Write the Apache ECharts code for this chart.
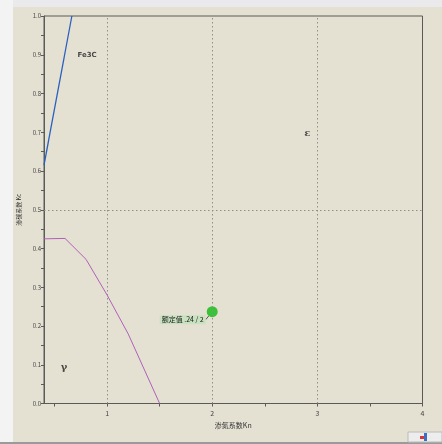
<!DOCTYPE html>
<html><head><meta charset="utf-8">
<script src="https://cdn.jsdelivr.net/npm/echarts@6/dist/echarts.min.js"></script>
<style>html,body{margin:0;padding:0;background:#E4E1D2;}#c{width:442px;height:444px;}</style>
</head><body><div id="c"></div>
<script>
// Data
const fe3cX = [0.4, 0.665];
const fe3cY = [0.615, 1.0];
const gammaX = [0.4, 0.6, 0.8, 1.0, 1.2, 1.5];
const gammaY = [0.425, 0.426, 0.372, 0.28, 0.18, 0.0];
const ratedX = [2.0];
const ratedY = [0.237];
const ratedLabel = '额定值 .24 / 2';
const regionNames = ['Fe3C', 'ε', 'γ'];
const regionX = [0.81, 2.905, 0.59];
const regionY = [0.899, 0.698, 0.094];
const xLabelTicks = [1, 2, 3, 4];
const xTickValues = [0.5, 1, 1.5, 2, 2.5, 3, 3.5, 4];
const gridX = [1, 2, 3];
const gridY = [0.5];

const zip = (a, b) => a.map((v, i) => [v, b[i]]);
const chart = echarts.init(document.getElementById('c'));
const font = 'Noto Sans CJK SC, DejaVu Sans, sans-serif';
chart.setOption({
  backgroundColor: '#E4E1D2',
  animation: false,
  graphic: [
    {type:'rect', shape:{x:0,y:0,width:442,height:7}, style:{fill:'#EAEAEC'}, z:-1},
    {type:'rect', shape:{x:0,y:0,width:13,height:444}, style:{fill:'#F3F3F3'}, z:-1},
    {type:'rect', shape:{x:0,y:442,width:442,height:2}, style:{fill:'#9a9a9a'}, z:-1},
    {type:'rect', shape:{x:408,y:432,width:34,height:10}, style:{fill:'#EDEDED', stroke:'#bbb', lineWidth:1}},
    {type:'rect', shape:{x:424,y:433,width:3,height:8}, style:{fill:'#3a6fc4'}},
    {type:'rect', shape:{x:420,y:436,width:4,height:3}, style:{fill:'#d23a3a'}}
  ],
  grid: {left:44, top:16, right:19.5, bottom:40.5, show:true, borderColor:'#5a5a5a', borderWidth:1, backgroundColor:'transparent'},
  xAxis: {
    type:'value', min:0.4, max:4,
    name:'渗氮系数Kn', nameLocation:'middle', nameGap:17,
    nameTextStyle:{fontSize:7, color:'#333', fontFamily:font},
    axisLine:{lineStyle:{color:'#5a5a5a', width:1}},
    axisTick:{show:true, length:3, inside:false, customValues:xTickValues, lineStyle:{color:'#5a5a5a'}},
    axisLabel:{customValues:xLabelTicks, fontSize:7, color:'#444', margin:6, fontFamily:font},
    splitLine:{show:false}
  },
  yAxis: {
    type:'value', min:0, max:1, interval:0.1,
    name:'渗碳系数 Kc', nameLocation:'middle', nameGap:19, nameRotate:90,
    nameTextStyle:{fontSize:6, color:'#333', fontFamily:font},
    axisLine:{show:true, lineStyle:{color:'#5a5a5a', width:1}},
    axisTick:{show:true, length:3, lineStyle:{color:'#5a5a5a'}},
    minorTick:{show:true, splitNumber:2, length:3, lineStyle:{color:'#5a5a5a'}},
    axisLabel:{fontSize:6, color:'#444', margin:3, fontFamily:font, formatter:v=>v.toFixed(1)},
    splitLine:{show:false}
  },
  series: [
    {type:'line', data:zip(fe3cX, fe3cY), symbol:'none', lineStyle:{color:'#2a5fc0', width:1.3},
     markLine:{silent:true, symbol:'none', label:{show:false},
       lineStyle:{color:'#8f8f8a', type:[1.5,2.5], width:1},
       data: gridX.map(v=>({xAxis:v})).concat(gridY.map(v=>({yAxis:v})))}},
    {type:'line', data:zip(gammaX, gammaY), symbol:'none', lineStyle:{color:'#b060b8', width:1}},
    {type:'scatter', data:zip(ratedX, ratedY), symbolSize:11, itemStyle:{color:'#38c238', opacity:1},
     label:{show:true, formatter:ratedLabel, position:'left', distance:1, fontSize:7, color:'#1a1a1a',
       backgroundColor:'#c9e2c0', padding:[1,2], fontFamily:font},
     labelLayout:{dx:0, dy:8},
     labelLine:{show:true, lineStyle:{color:'#333', width:0.8}}},
    {type:'scatter', data:regionNames.map((n,i)=>({value:[regionX[i], regionY[i]], name:n,
       label: i>0 ? {fontSize:10, fontFamily:'DejaVu Serif', fontWeight:'bold'} : {}})), symbolSize:0,
     label:{show:true, position:'inside', formatter:p=>p.name, color:'#222',
       fontSize:7, fontWeight:'bold', fontFamily:'DejaVu Sans'}}
  ]
});
</script></body></html>
